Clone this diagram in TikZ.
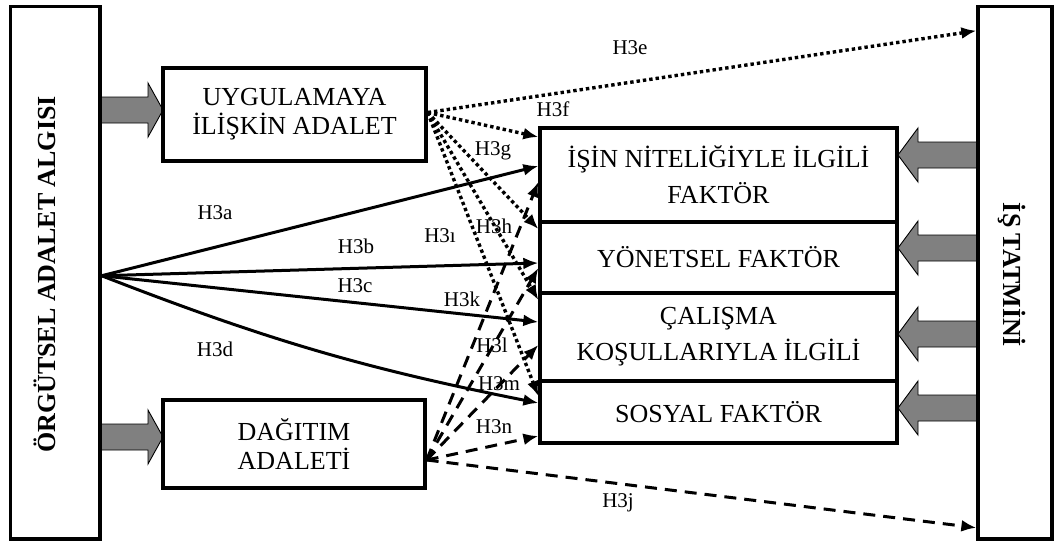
\documentclass[tikz,border=0pt]{standalone}
\usepackage{fontspec}
\setmainfont{Liberation Serif}
\usetikzlibrary{arrows.meta,calc}
\definecolor{arrowgray}{RGB}{128,128,128}
\newcommand\txtmain{\fontsize{26}{29}\selectfont}
\newcommand\txtwide{\fontsize{26}{36}\selectfont}
\newcommand\txtlabel{\fontsize{21}{24}\selectfont}
% grey block arrow: tail x, tip x, centre y, head base x
\newcommand\blockarr[4]{\draw[block] (#1,#3-13) -- (#4,#3-13) -- (#4,#3-27) -- (#2,#3) -- (#4,#3+27) -- (#4,#3+13) -- (#1,#3+13) -- cycle;}
\begin{document}
\begin{tikzpicture}[x=1pt,y=-1pt,
  box/.style={draw,line width=3.3pt,inner sep=0pt,align=center,font=\txtmain,fill=white},
  factor/.style={box,minimum width=357pt,font=\txtwide},
  block/.style={draw=black,line width=0.9pt,fill=arrowgray,line join=miter},
  tipped/.style={-{Latex[length=15pt,width=12pt]}},
  hsolid/.style={tipped,line width=3pt},
  hdotted/.style={tipped,line width=3.4pt,dash pattern=on 3.4pt off 3pt},
  hdashed/.style={tipped,line width=3pt,dash pattern=on 12pt off 8pt},
  hlabel/.style={font=\txtlabel,inner sep=0pt},
  vtitle/.style={font=\txtmain\bfseries,inner sep=0pt,anchor=base}]

\useasboundingbox (0,0) rectangle (1055,544);

% grey block arrows
\blockarr{100}{163}{110}{148}
\blockarr{100}{163}{437}{148}
\blockarr{978}{898}{155}{918}
\blockarr{978}{898}{248}{918}
\blockarr{978}{898}{334}{918}
\blockarr{978}{898}{408}{918}

% outer boxes
\node[box,minimum width=89.5pt,minimum height=532.5pt] (oaa) at (55.25,272.75) {};
\node[vtitle,rotate=90] (oaatitle) at (55,274.5) {ÖRGÜTSEL ADALET ALGISI};
\node[box,minimum width=74pt,minimum height=532.5pt] (ist) at (1015,272.75) {};
\node[vtitle,rotate=-90] (isttitle) at (1003,275) {İŞ TATMİNİ};

% justice dimensions
\node[box,minimum width=263pt,minimum height=93pt] (uyg) at (294.5,114.5) {UYGULAMAYA\\İLİŞKİN ADALET};
\node[box,minimum width=262pt,minimum height=88pt] (dag) at (294,444) {DAĞITIM\\ADALETİ};

% satisfaction factors
\node[factor,minimum height=94pt] (isin) at (718.5,175) {İŞİN NİTELİĞİYLE İLGİLİ\\FAKTÖR};
\node[factor,minimum height=71pt] (yon) at (718.5,257.5) {YÖNETSEL FAKTÖR};
\node[factor,minimum height=88pt] (cal) at (718.5,337) {ÇALIŞMA\\KOŞULLARIYLA İLGİLİ};
\node[factor,minimum height=62pt] (sos) at (718.5,412) {SOSYAL FAKTÖR};

% connector end points
\coordinate (osrc) at ($(oaa.east)+(0,3)$);
\coordinate (usrc) at ($(uyg.east)+(0,-2)$);
\coordinate (dsrc) at ($(dag.east)+(0,16)$);
\coordinate (isttop) at ($(ist.west)+(0,-242)$);
\coordinate (istbot) at ($(ist.west)+(0,255)$);
\coordinate (isin-u) at ($(isin.west)+(0,-38)$);
\coordinate (isin-o) at ($(isin.west)+(0,-9)$);
\coordinate (isin-d) at ($(isin.west)+(0,7)$);
\coordinate (yon-u) at ($(yon.west)+(0,-28.5)$);
\coordinate (yon-o) at ($(yon.west)+(0,5.5)$);
\coordinate (yon-d) at ($(yon.west)+(0,10.5)$);
\coordinate (cal-u) at ($(cal.west)+(0,-37)$);
\coordinate (cal-o) at ($(cal.west)+(0,-15)$);
\coordinate (cal-d) at ($(cal.west)+(0,8)$);
\coordinate (sos-u) at ($(sos.west)+(0,-16)$);
\coordinate (sos-o) at ($(sos.west)+(0,-9)$);
\coordinate (sos-d) at ($(sos.west)+(0,24)$);

% H3a-d
\draw[hsolid] (osrc) -- (isin-o);
\draw[hsolid] (osrc) -- (yon-o);
\draw[hsolid] (osrc) -- (cal-o);
\draw[hsolid] (osrc) to[bend right=5] (sos-o);

% H3e-i
\draw[hdotted] (usrc) -- (isttop);
\draw[hdotted] (usrc) -- (isin-u);
\draw[hdotted] (usrc) -- (yon-u);
\draw[hdotted] (usrc) -- (cal-u);
\draw[hdotted] (usrc) -- (sos-u);

% H3j-n
\draw[hdashed] (dsrc) -- (istbot);
\draw[hdashed] (dsrc) -- (isin-d);
\draw[hdashed] (dsrc) -- (yon-d);
\draw[hdashed] (dsrc) -- (cal-d);
\draw[hdashed] (dsrc) -- (sos-d);

% hypothesis labels
\node[hlabel] (la) at (215,213) {H3a};
\node[hlabel] (lb) at (356,246) {H3b};
\node[hlabel] (lc) at (355,286) {H3c};
\node[hlabel] (ld) at (215,349) {H3d};
\node[hlabel] (le) at (630,48) {H3e};
\node[hlabel] (lf) at (553,109) {H3f};
\node[hlabel] (lg) at (493,151) {H3g};
\node[hlabel] (lh) at (494,226) {H3h};
\node[hlabel] (li) at (440,236) {H3ı};
\node[hlabel] (lj) at (618,503) {H3j};
\node[hlabel] (lk) at (462,299) {H3k};
\node[hlabel] (ll) at (492,345) {H3l};
\node[hlabel] (lm) at (499,384) {H3m};
\node[hlabel] (ln) at (494,427) {H3n};
\end{tikzpicture}
\end{document}
